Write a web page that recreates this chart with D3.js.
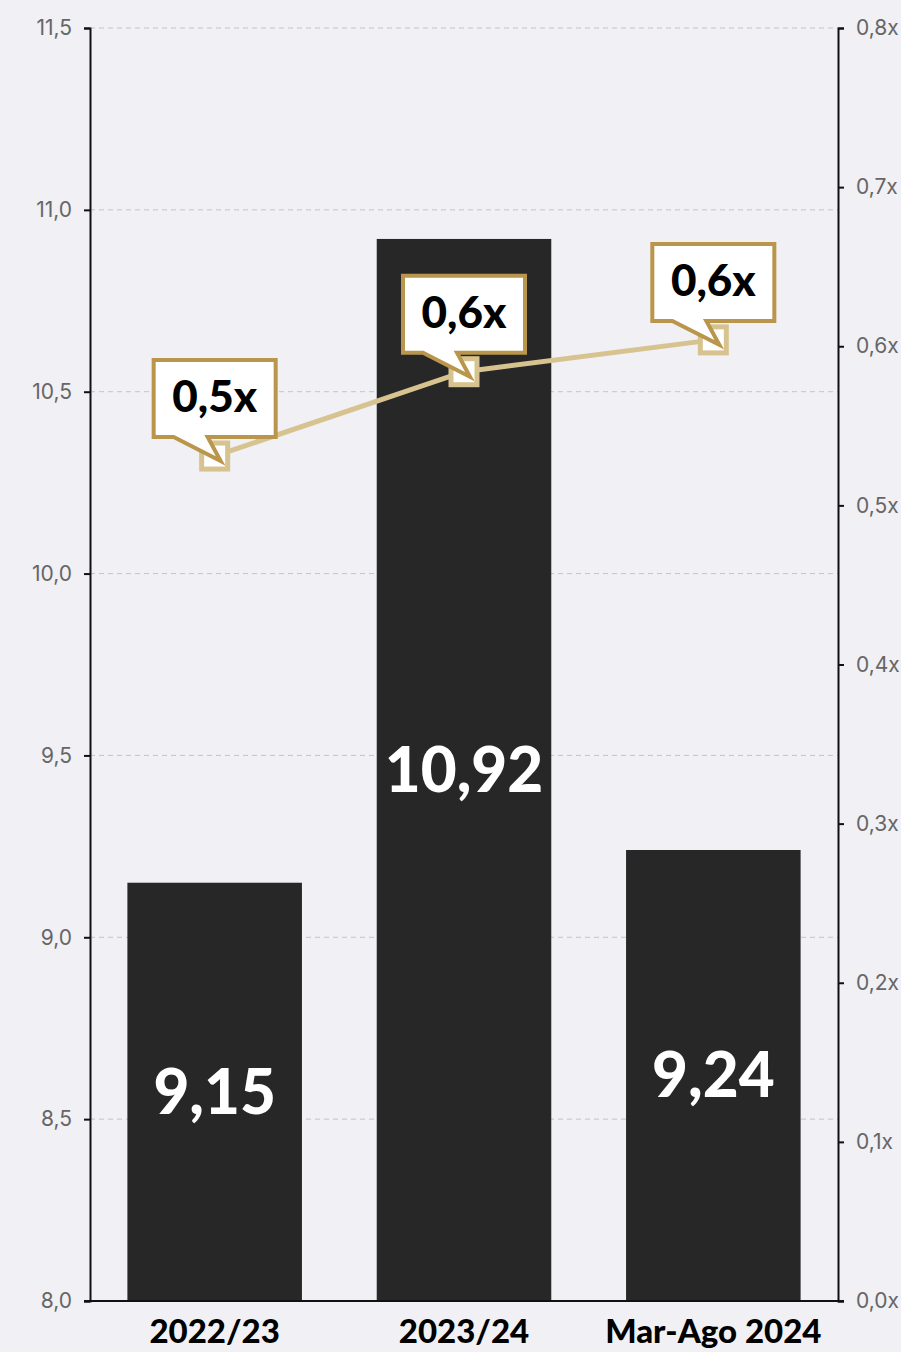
<!DOCTYPE html>
<html>
<head>
<meta charset="utf-8">
<script src="https://cdn.jsdelivr.net/npm/d3@7"></script>
<style>
  html, body { margin: 0; padding: 0; background: #f0f0f5; }
  svg { display: block; }
</style>
</head>
<body>
<div id="root"></div>
<script>
// chart data
const categories = ['2022/23', '2023/24', 'Mar-Ago 2024'];
const barValues = [9.15, 10.92, 9.24];
const barLabels = ['9,15', '10,92', '9,24'];
const ratioValues = [0.531, 0.584, 0.604];
const ratioLabels = ['0,5x', '0,6x', '0,6x'];
const leftTicks = [8.0, 8.5, 9.0, 9.5, 10.0, 10.5, 11.0, 11.5];
const rightTicks = [0, 0.1, 0.2, 0.3, 0.4, 0.5, 0.6, 0.7, 0.8];

const width = 901, height = 1352;
const margin = { left: 90, right: 838, top: 28, bottom: 1301 };

const svg = d3.select('#root').append('svg')
  .attr('width', width)
  .attr('height', height)
  .attr('viewBox', [0, 0, width, height]);

svg.append('rect').attr('width', width).attr('height', height).attr('fill', '#f0f0f5');

const x = d3.scaleBand().domain(categories).range([margin.left, margin.right]).paddingInner(0.3).paddingOuter(0.15);
const yLeft = d3.scaleLinear().domain([8, 11.5]).range([margin.bottom, margin.top]);
const yRight = d3.scaleLinear().domain([0, 0.8]).range([margin.bottom, margin.top]);

const fmt1 = d => d3.format('.1f')(d).replace('.', ',');

// gridlines
svg.append('g')
  .selectAll('line')
  .data(leftTicks.slice(1))
  .join('line')
  .attr('x1', margin.left).attr('x2', margin.right)
  .attr('y1', d => yLeft(d)).attr('y2', d => yLeft(d))
  .attr('stroke', '#c4c4c8')
  .attr('stroke-width', 1)
  .attr('stroke-dasharray', '5,4');

// bars
svg.append('g')
  .selectAll('rect')
  .data(barValues)
  .join('rect')
  .attr('x', (d, i) => x(categories[i]))
  .attr('y', d => yLeft(d))
  .attr('width', x.bandwidth())
  .attr('height', d => margin.bottom - yLeft(d))
  .attr('fill', '#272727');

svg.append('g')
  .selectAll('text')
  .data(barValues)
  .join('text')
  .attr('x', (d, i) => x(categories[i]) + x.bandwidth() / 2)
  .attr('y', d => (yLeft(d) + margin.bottom) / 2)
  .attr('dy', '0.35em')
  .attr('text-anchor', 'middle')
  .attr('fill', '#ffffff')
  .attr('font-family', 'Lato, sans-serif')
  .attr('font-weight', 900)
  .attr('font-size', 62)
  .text((d, i) => barLabels[i]);

// axes
const axisLeft = svg.append('g')
  .attr('transform', `translate(${margin.left},0)`)
  .call(d3.axisLeft(yLeft).tickValues(leftTicks).tickFormat(fmt1).tickSize(6).tickPadding(12));
const axisRight = svg.append('g')
  .attr('transform', `translate(${margin.right},0)`)
  .call(d3.axisRight(yRight).tickValues(rightTicks).tickFormat(d => fmt1(d) + 'x').tickSize(6).tickPadding(12));

[axisLeft, axisRight].forEach(g => {
  g.select('.domain').attr('stroke', '#111').attr('stroke-width', 2);
  g.selectAll('.tick line').attr('stroke', '#111').attr('stroke-width', 2);
  g.selectAll('.tick text')
    .attr('fill', '#666')
    .attr('font-family', 'Inter, sans-serif')
    .attr('font-size', 21);
});

// bottom axis
svg.append('line')
  .attr('x1', margin.left - 6).attr('x2', margin.right + 6)
  .attr('y1', margin.bottom).attr('y2', margin.bottom)
  .attr('stroke', '#111').attr('stroke-width', 2);

svg.append('g')
  .selectAll('text')
  .data(categories)
  .join('text')
  .attr('x', d => x(d) + x.bandwidth() / 2)
  .attr('y', 1343)
  .attr('text-anchor', 'middle')
  .attr('fill', '#000')
  .attr('font-family', 'Lato, sans-serif')
  .attr('font-weight', 900)
  .attr('font-size', 33)
  .text(d => d);

// ratio line
const cx = (d, i) => x(categories[i]) + x.bandwidth() / 2;
const line = d3.line().x((d, i) => cx(d, i)).y(d => yRight(d));

svg.append('path')
  .datum(ratioValues)
  .attr('d', line)
  .attr('fill', 'none')
  .attr('stroke', '#d6c38f')
  .attr('stroke-width', 5);

svg.append('g')
  .selectAll('rect')
  .data(ratioValues)
  .join('rect')
  .attr('x', (d, i) => cx(d, i) - 13)
  .attr('y', d => yRight(d) - 13)
  .attr('width', 26)
  .attr('height', 26)
  .attr('fill', '#ffffff')
  .attr('stroke', '#d6c38f')
  .attr('stroke-width', 5);

// callouts
const callouts = svg.append('g')
  .selectAll('g')
  .data(ratioValues)
  .join('g')
  .attr('transform', (d, i) => `translate(${cx(d, i)},${yRight(d)})`);

// box from (-61,-96) to (61,-19), tail down to the marker
callouts.append('path')
  .attr('d', 'M-61,-96 H61 V-19 H-7 L6,5 L-41,-19 H-61 Z')
  .attr('fill', '#ffffff')
  .attr('stroke', '#b9964b')
  .attr('stroke-width', 4)
  .attr('stroke-linejoin', 'miter');

callouts.append('text')
  .attr('x', 0)
  .attr('y', -59)
  .attr('dy', '0.35em')
  .attr('text-anchor', 'middle')
  .attr('fill', '#000')
  .attr('font-family', 'Lato, sans-serif')
  .attr('font-weight', 900)
  .attr('font-size', 44)
  .text((d, i) => ratioLabels[i]);
</script>
</body>
</html>
